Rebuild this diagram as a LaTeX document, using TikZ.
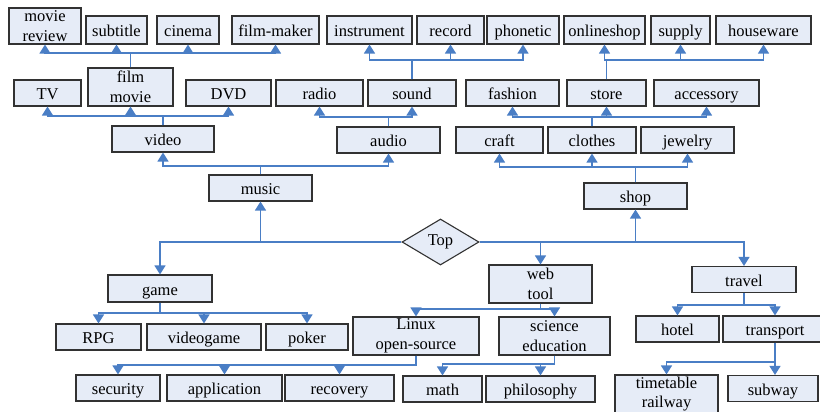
\documentclass[tikz,border=0pt]{standalone}
\usepackage{fontspec}
\setmainfont{Liberation Serif}
\usetikzlibrary{shapes.geometric,arrows.meta,calc}
\definecolor{lnblue}{RGB}{74,126,197}
\definecolor{boxfill}{RGB}{230,236,247}
\definecolor{boxline}{RGB}{50,50,50}
\begin{document}
\begin{tikzpicture}[x=1pt,y=-1pt,
  bx/.style={draw=boxline, fill=boxfill, line width=1.1pt, inner sep=0pt, align=center,
    font=\fontsize{16.5}{19.5}\selectfont},
  bb/.style 2 args={bx, minimum width=#1pt, minimum height=#2pt},
  one/.style={text height=14pt, text depth=1pt},
  ln/.style={draw=lnblue, line width=1.3pt},
  ar/.style={ln, -{Triangle[width=11pt,length=9pt]}}]
\clip (0,0) rectangle (820,412);
\fill[white] (0,0) rectangle (820,412);
% top row
\node[bb={72}{36}] (mreview) at (45,26) {movie\\review};
\node[bb={61}{28},one] (subtitle) at (116.5,30) {subtitle};
\node[bb={62}{28},one] (cinema) at (188,30) {cinema};
\node[bb={87}{28},one] (filmmaker) at (275.5,30) {film-maker};
\node[bb={85}{28},one] (instrument) at (369.5,30) {instrument};
\node[bb={67}{28},one] (record) at (450.5,30) {record};
\node[bb={72}{28},one] (phonetic) at (523,30) {phonetic};
\node[bb={81}{28},one] (onlineshop) at (604.5,30) {onlineshop};
\node[bb={59}{28},one] (supply) at (680.5,30) {supply};
\node[bb={95}{28},one] (houseware) at (763.5,30) {houseware};
% second row
\node[bb={67}{26},one] (tv) at (47.5,93) {TV};
\node[bb={85}{38}] (film) at (130.5,87) {film\\movie};
\node[bb={85}{26},one] (dvd) at (228.5,93) {DVD};
\node[bb={87}{26},one] (radio) at (319.5,93) {radio};
\node[bb={88}{26},one] (sound) at (412,93) {sound};
\node[bb={93}{26},one] (fashion) at (512.5,93) {fashion};
\node[bb={79}{26},one] (store) at (606.5,93) {store};
\node[bb={105}{26},one] (accessory) at (706.5,93) {accessory};
% third row
\node[bb={102}{26},one] (video) at (163,139) {video};
\node[bb={103}{26},one] (audio) at (388.5,140) {audio};
\node[bb={87}{26},one] (craft) at (499.5,140) {craft};
\node[bb={88}{26},one] (clothes) at (592,140) {clothes};
\node[bb={93}{26},one] (jewelry) at (687.5,140) {jewelry};
% fourth row
\node[bb={103}{26},one] (music) at (260.5,188) {music};
\node[bb={103}{26},one] (shop) at (635.5,196) {shop};
\node[draw=boxline, fill=boxfill, line width=1.1pt, diamond, inner sep=0pt,
  minimum width=77pt, minimum height=46pt, font=\fontsize{16.5}{19.5}\selectfont] (top) at (440.5,242) {Top};
% lower part
\node[bb={104}{27},one] (game) at (160,288.5) {game};
\node[bb={103}{38}] (web) at (540.5,284) {web\\tool};
\node[bb={104}{26},one] (travel) at (744,279.5) {travel};
\node[bb={85}{26},one] (rpg) at (98.5,337) {RPG};
\node[bb={114}{26},one] (videogame) at (204,337) {videogame};
\node[bb={82}{26},one] (poker) at (307,337) {poker};
\node[bb={126}{38}] (linux) at (416,336) {Linux\\open-source};
\node[bb={111}{38}] (science) at (554.5,336) {science\\education};
\node[bb={83}{26},one] (hotel) at (677.5,329) {hotel};
\node[bb={104}{26},one] (transport) at (775,329) {transport};
\node[bb={84}{26},one] (security) at (118,388) {security};
\node[bb={115}{26},one] (application) at (224.5,388) {application};
\node[bb={109}{26},one] (recovery) at (339.5,388) {recovery};
\node[bb={79}{26},one] (math) at (442.5,389) {math};
\node[bb={109}{26},one] (philosophy) at (540.5,389) {philosophy};
\node[bb={103}{38}] (timetable) at (666.5,394) {timetable\\railway};
\node[bb={90}{26},one] (subway) at (773,388.5) {subway};
% upward trees
\foreach \c in {mreview,subtitle,cinema,filmmaker}
  \draw[ar] (film.north) -- (film.north |- 0,53) -| (\c.south);
\foreach \c in {instrument,record,phonetic}
  \draw[ar] (sound.north) -- (sound.north |- 0,60) -| (\c.south);
\foreach \c in {onlineshop,supply,houseware}
  \draw[ar] (store.north) -- (store.north |- 0,60) -| (\c.south);
\foreach \c in {tv,film,dvd}
  \draw[ar] (video.north) -- (video.north |- 0,116) -| (\c.south);
\foreach \c in {radio,sound}
  \draw[ar] (audio.north) -- (audio.north |- 0,117) -| (\c.south);
\foreach \c in {fashion,store,accessory}
  \draw[ar] (clothes.north) -- (clothes.north |- 0,117) -| (\c.south);
\foreach \c in {video,audio}
  \draw[ar] (music.north) -- (music.north |- 0,166) -| (\c.south);
\foreach \c in {craft,clothes,jewelry}
  \draw[ar] (shop.north) -- (shop.north |- 0,167) -| (\c.south);
% from Top
\draw[ar] (top.west) -| (music.south);
\draw[ar] (top.west) -| (game.north);
\draw[ar] (top.east) -| (shop.south);
\draw[ar] (top.east) -| (web.north);
\draw[ar] (top.east) -| (travel.north);
% downward trees
\foreach \c in {rpg,videogame,poker}
  \draw[ar] (game.south) -- (game.south |- 0,313) -| (\c.north);
\foreach \c in {linux,science}
  \draw[ar] (web.south) -- (web.south |- 0,309) -| (\c.north);
\foreach \c in {security,application,recovery}
  \draw[ar] (linux.south) -- (linux.south |- 0,365) -| (\c.north);
\foreach \c in {math,philosophy}
  \draw[ar] (science.south) -- (science.south |- 0,364) -| (\c.north);
\foreach \c in {hotel,transport}
  \draw[ar] (travel.south) -- (travel.south |- 0,305) -| (\c.north);
\draw[ar] (transport.south) -- (transport.south |- subway.north);
\draw[ar] (transport.south) -- (transport.south |- 0,362) -| (timetable.north);
\end{tikzpicture}
\end{document}
